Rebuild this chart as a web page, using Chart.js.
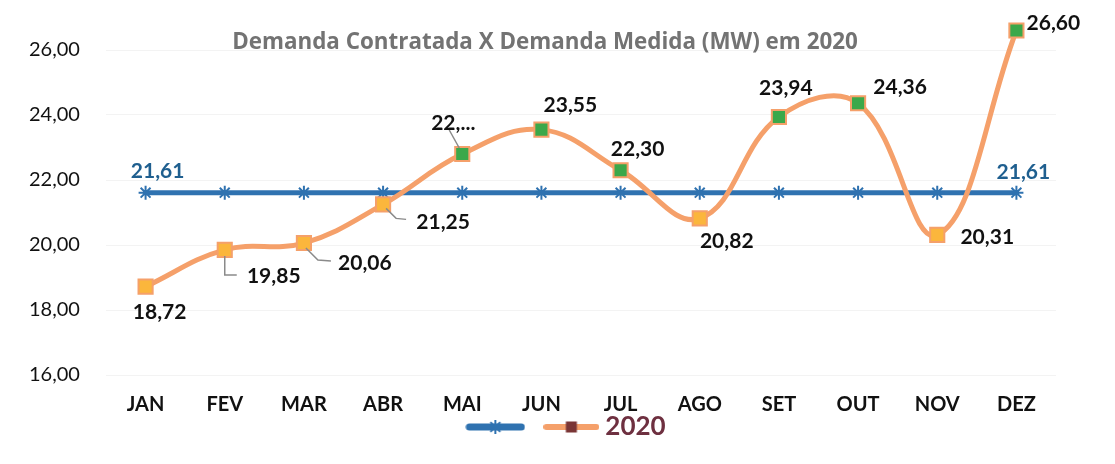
<!DOCTYPE html>
<html>
<head>
<meta charset="utf-8">
<script src="https://cdn.jsdelivr.net/npm/chart.js@4"></script>
<style>
  html, body { margin: 0; padding: 0; background: #ffffff; }
  #wrap { width: 1115px; height: 464px; position: relative; }
</style>
</head>
<body>
<div id="wrap"><canvas id="c" width="1115" height="464"></canvas></div>
<script>
// ---- data ----
const months = ['JAN','FEV','MAR','ABR','MAI','JUN','JUL','AGO','SET','OUT','NOV','DEZ'];
const contratada = [21.61,21.61,21.61,21.61,21.61,21.61,21.61,21.61,21.61,21.61,21.61,21.61];
const medida2020 = [18.72,19.85,20.06,21.25,22.80,23.55,22.30,20.82,23.94,24.36,20.31,26.60];
const yTickValues = [16,18,20,22,24,26];
const seriesNames = ['', '2020'];
const titleText = 'Demanda Contratada X Demanda Medida (MW) em 2020';
const labelOverrides = {4: '22,...'};

// ---- styles ----
const BLUE = '#2f72b0';
const ORANGE = '#f5a06a';
const GREEN = '#3ba84a';
const YELLOW = '#fbb63c';
const FONT = 'Lato, "Open Sans", sans-serif';

// label offsets (dx, dy) from the point to the label centre
const orangeLabelOffsets = [[14,26],[49,26],[61,20],[60,18],[-9,-31],[29,-24],[17,-21],[27,23],[7,-29],[42,-16],[50,2],[37,-7]];
const blueLabelOffsets = {0: [12,-21], 11: [7,-20]};
const leaders = {
  1: [[0,6],[0,25],[12,25]],
  2: [[2,5],[14,17],[27,18]],
  3: [[3,4],[13,14],[23,15]],
  4: [[-3,-6],[-13,-24]]
};

const fmt = v => v.toFixed(2).replace('.', ',');

function legendIcon(kind) {
  const c = document.createElement('canvas');
  if (kind === 0) {
    c.width = 60; c.height = 16;
    const g = c.getContext('2d');
    g.strokeStyle = BLUE; g.lineCap = 'round'; g.lineWidth = 7;
    g.beginPath(); g.moveTo(4, 8); g.lineTo(56, 8); g.stroke();
    g.lineWidth = 2; g.lineCap = 'butt';
    const r = 7, cx = 30, cy = 8;
    g.beginPath();
    g.moveTo(cx, cy - r); g.lineTo(cx, cy + r);
    g.moveTo(cx - r*0.7, cy - r*0.7); g.lineTo(cx + r*0.7, cy + r*0.7);
    g.moveTo(cx - r*0.7, cy + r*0.7); g.lineTo(cx + r*0.7, cy - r*0.7);
    g.stroke();
  } else {
    c.width = 56; c.height = 16;
    const g = c.getContext('2d');
    g.strokeStyle = ORANGE; g.lineCap = 'round'; g.lineWidth = 6;
    g.beginPath(); g.moveTo(3, 8); g.lineTo(53, 8); g.stroke();
    g.fillStyle = '#7a3535';
    g.fillRect(28 - 5.5, 8 - 5.5, 11, 11);
  }
  return c;
}
const legendIcons = [legendIcon(0), legendIcon(1)];

const titlePlugin = {
  id: 'overlayTitle',
  afterDraw(chart) {
    const ctx = chart.ctx;
    ctx.save();
    ctx.font = 'bold 22px "Open Sans", sans-serif';
    const w = ctx.measureText(titleText).width;
    const size = 22 * 626 / w;
    ctx.font = 'bold ' + size.toFixed(2) + 'px "Open Sans", sans-serif';
    ctx.fillStyle = '#737373';
    ctx.textAlign = 'center';
    ctx.textBaseline = 'middle';
    ctx.fillText(titleText, 545, 43);
    ctx.restore();
  }
};

const labelPlugin = {
  id: 'valueLabels',
  afterDatasetsDraw(chart) {
    const ctx = chart.ctx;
    ctx.save();
    const om = chart.getDatasetMeta(1);
    ctx.strokeStyle = '#8a8a8a';
    ctx.lineWidth = 1.5;
    Object.keys(leaders).forEach(k => {
      const p = om.data[k];
      const pts = leaders[k];
      ctx.beginPath();
      pts.forEach((o, i) => {
        if (i === 0) ctx.moveTo(p.x + o[0], p.y + o[1]);
        else ctx.lineTo(p.x + o[0], p.y + o[1]);
      });
      ctx.stroke();
    });
    ctx.textAlign = 'center';
    ctx.textBaseline = 'middle';
    ctx.font = 'bold 21px ' + FONT;
    ctx.fillStyle = '#111111';
    om.data.forEach((p, i) => {
      const txt = labelOverrides[i] !== undefined ? labelOverrides[i] : fmt(medida2020[i]);
      const o = orangeLabelOffsets[i];
      ctx.fillText(txt, p.x + o[0], p.y + o[1]);
    });
    const bm = chart.getDatasetMeta(0);
    ctx.fillStyle = '#1f5f8f';
    Object.keys(blueLabelOffsets).forEach(k => {
      const p = bm.data[k];
      const o = blueLabelOffsets[k];
      ctx.fillText(fmt(contratada[k]), p.x + o[0], p.y + o[1]);
    });
    ctx.restore();
  }
};

new Chart(document.getElementById('c'), {
  type: 'line',
  data: {
    labels: months,
    datasets: [
      {
        label: seriesNames[0],
        data: contratada,
        borderColor: BLUE,
        backgroundColor: BLUE,
        borderWidth: 5,
        tension: 0,
        pointStyle: 'star',
        pointRadius: 7,
        pointBorderWidth: 2,
        pointBorderColor: BLUE,
        order: 2
      },
      {
        label: seriesNames[1],
        data: medida2020,
        borderColor: ORANGE,
        backgroundColor: ORANGE,
        borderWidth: 5,
        tension: 0.4,
        pointStyle: 'rect',
        pointRadius: 10,
        pointBorderWidth: 2,
        pointBorderColor: ORANGE,
        pointBackgroundColor: medida2020.map(v => v > contratada[0] ? GREEN : YELLOW),
        order: 1
      }
    ]
  },
  options: {
    responsive: false,
    animation: false,
    layout: { padding: { left: 84, right: 59, top: 17.5, bottom: 14 } },
    plugins: {
      title: { display: false },
      tooltip: { enabled: false },
      legend: {
        display: true,
        position: 'bottom',
        labels: {
          usePointStyle: true,
          pointStyleWidth: 42,
          padding: 21,
          color: '#6e3040',
          font: { family: FONT, size: 26, weight: 'bold' },
          generateLabels: chart => chart.data.datasets.map((ds, i) => ({
            text: ds.label,
            pointStyle: legendIcons[i],
            fillStyle: 'transparent',
            strokeStyle: 'transparent',
            lineWidth: 0,
            fontColor: '#6e3040',
            datasetIndex: i,
            hidden: false
          }))
        }
      }
    },
    scales: {
      x: {
        offset: true,
        grid: { display: false, offset: true },
        border: { display: false },
        ticks: {
          mirror: true,
          color: '#111111',
          padding: -42,
          font: { family: FONT, size: 20, weight: 'bold' },
          maxRotation: 0,
          autoSkip: false
        },
        afterFit: s => { s.height = 18; }
      },
      y: {
        min: 16,
        max: 27,
        grid: { color: '#f3f3f3', drawTicks: false },
        border: { display: false },
        afterBuildTicks: s => { s.ticks = yTickValues.map(v => ({ value: v })); },
        ticks: {
          mirror: true,
          crossAlign: 'near',
          color: '#111111',
          padding: -77,
          font: { family: FONT, size: 20 },
          callback: v => fmt(v)
        },
        afterFit: s => { s.width = 22; }
      }
    }
  },
  plugins: [labelPlugin, titlePlugin]
});
</script>
</body>
</html>
